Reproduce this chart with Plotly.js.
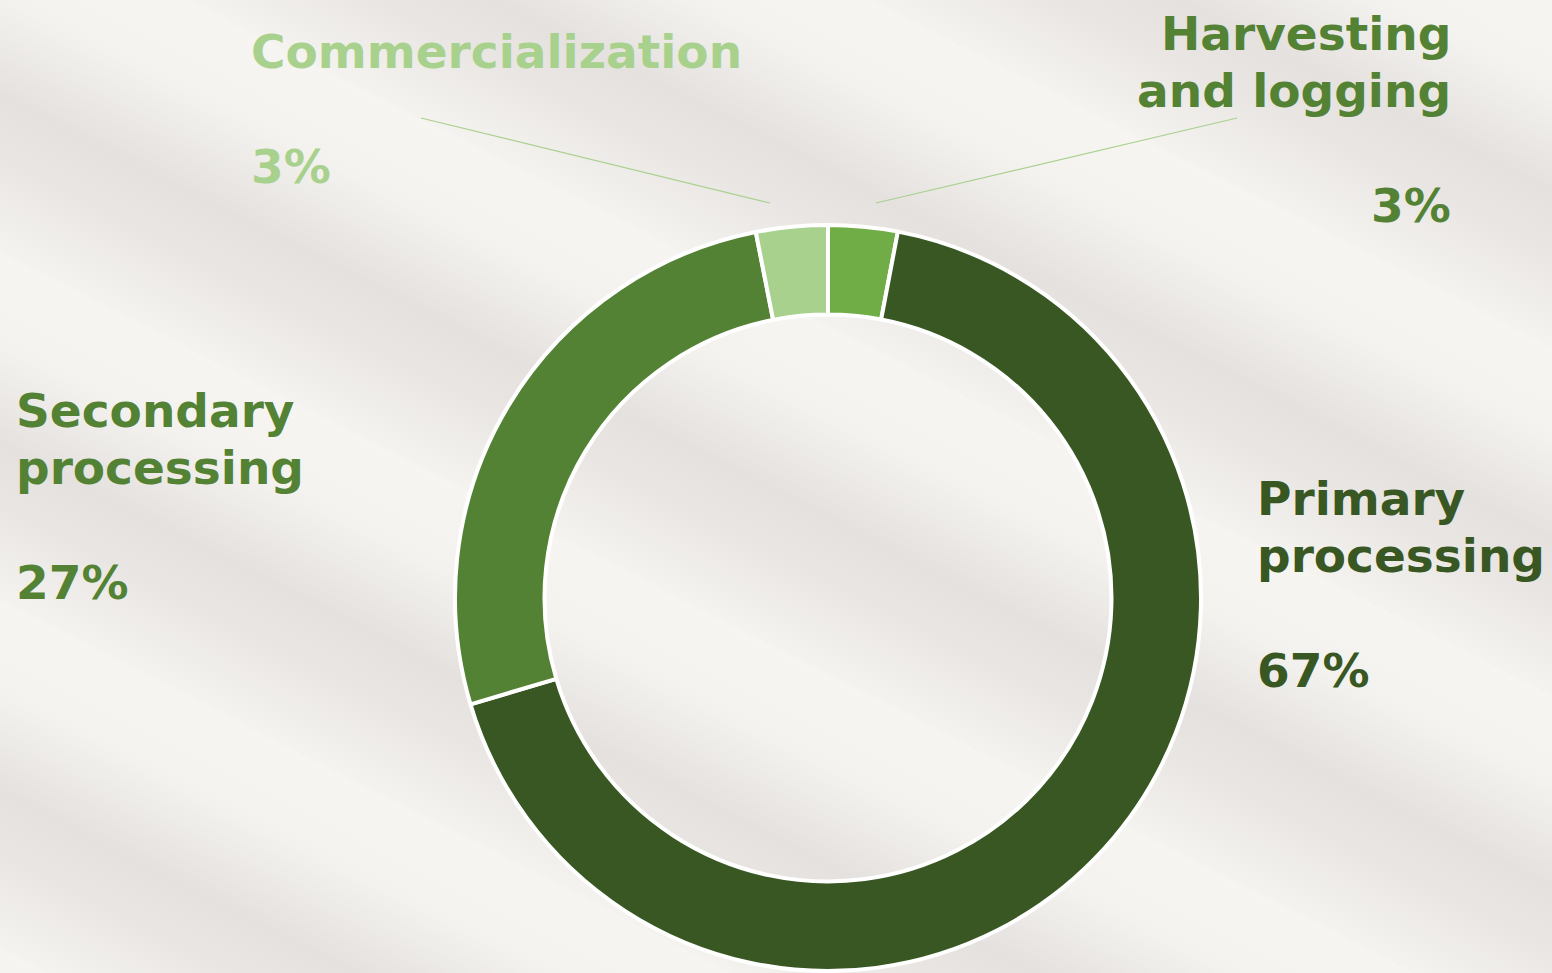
<!DOCTYPE html>
<html>
<head>
<meta charset="utf-8">
<script src="https://cdn.plot.ly/plotly-3.0.1.min.js"></script>
<style>
  html, body { margin:0; padding:0; width:1552px; height:973px; overflow:hidden; }
  body {
    background-color:#f3f1ee;
    background-image:
      repeating-linear-gradient(207deg,
        #f7f5f2 0px, #f4f2ef 80px, #e4e1de 170px, #e8e5e2 220px, #f5f3f0 310px);
  }
  #chart { width:1552px; height:973px; }
</style>
</head>
<body>
<div id="chart"></div>
<script>
// ---- data ----
const categories = ["Harvesting and logging", "Primary processing", "Secondary processing", "Commercialization"];
const values = [3.0, 67.4, 26.5, 3.1];
const pctLabels = ["3%", "67%", "27%", "3%"];
const nameLines = [["Harvesting", "and logging"], ["Primary", "processing"], ["Secondary", "processing"], ["Commercialization"]];
const sliceColors = ["#70ad47", "#385723", "#548235", "#a9d18e"];
const textColors = ["#548235", "#385723", "#548235", "#a9d18e"];

const W = 1552, H = 973;
const cx = 828, cy = 598, R = 373;
const px = x => x / W;
const py = y => 1 - y / H;

// label block placement (pixels): anchor x, align, first-line center y, pct center y
const labelPos = [
  {x: 1453, anchor: "right", y0: 34, yp: 205},
  {x: 1255, anchor: "left", y0: 498, yp: 670},
  {x: 14, anchor: "left", y0: 410, yp: 582},
  {x: 249, anchor: "left", y0: 52, yp: 167}
];
const FS = 47, LH = 57;
const font = "DejaVu Sans, Arial Black, sans-serif";

const annotations = [];
categories.forEach((c, i) => {
  const p = labelPos[i];
  nameLines[i].forEach((ln, k) => {
    annotations.push({
      xref: "paper", yref: "paper", x: px(p.x), y: py(p.y0 + k * LH),
      xanchor: p.anchor, yanchor: "middle", showarrow: false,
      text: "<b>" + ln + "</b>",
      font: {family: font, size: FS, color: textColors[i]}
    });
  });
  annotations.push({
    xref: "paper", yref: "paper", x: px(p.x), y: py(p.yp),
    xanchor: p.anchor, yanchor: "middle", showarrow: false,
    text: "<b>" + pctLabels[i] + "</b>",
    font: {family: font, size: FS, color: textColors[i]}
  });
});

const shapes = [
  {type: "line", xref: "paper", yref: "paper", x0: px(421), y0: py(118), x1: px(770), y1: py(203),
   line: {color: "#a9d18e", width: 1.2}},
  {type: "line", xref: "paper", yref: "paper", x0: px(1237), y0: py(118), x1: px(876), y1: py(203),
   line: {color: "#a9d18e", width: 1.2}}
];

const trace = {
  type: "pie",
  labels: categories,
  values: values,
  hole: 0.76,
  sort: false,
  direction: "clockwise",
  rotation: 0,
  textinfo: "none",
  hoverinfo: "label+percent",
  marker: {colors: sliceColors, line: {color: "#ffffff", width: 4}},
  domain: {x: [px(cx - R), px(cx + R)], y: [py(cy + R), py(cy - R)]},
  showlegend: false
};

const layout = {
  width: W, height: H,
  margin: {l: 0, r: 0, t: 0, b: 0},
  paper_bgcolor: "rgba(0,0,0,0)",
  plot_bgcolor: "rgba(0,0,0,0)",
  showlegend: false,
  annotations: annotations,
  shapes: shapes
};

Plotly.newPlot("chart", [trace], layout, {displayModeBar: false, staticPlot: true});
</script>
</body>
</html>
